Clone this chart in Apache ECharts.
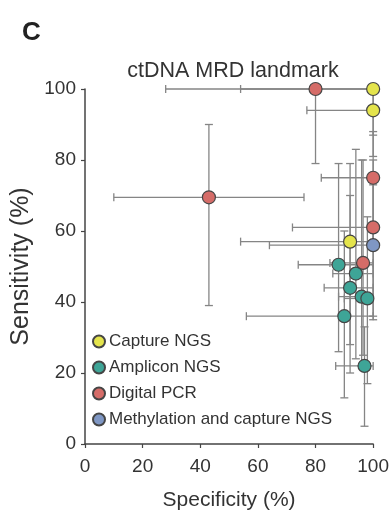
<!DOCTYPE html>
<html>
<head>
<meta charset="utf-8">
<script src="https://cdn.jsdelivr.net/npm/echarts@6/dist/echarts.min.js"></script>
<style>
  html, body { margin: 0; padding: 0; background: #fff; }
  #chart { width: 392px; height: 516px; }
</style>
</head>
<body>
<div id="chart"></div>
<script>
// Each study: [specificity, sensitivity, specLow, specHigh, sensLow, sensHigh] (%)
const captureNGS = [
  [100, 100, 54, 100, 87, 100],
  [100, 94, 77, 100, 81, 100],
  [92, 57, 54, 100, 28, 79]
];
const ampliconNGS = [
  [88, 50.5, 74, 100, 26, 79],
  [94, 48, 86, 100, 24, 83],
  [92, 44, 83, 100, 20, 70],
  [96, 41.5, 88, 100, 22, 80],
  [98, 41, 90, 100, 17, 64],
  [90, 36, 56, 100, 13, 60],
  [97, 22, 87, 100, 5, 33]
];
const digitalPCR = [
  [80, 100, 28, 100, 79, 100],
  [43, 69.5, 10, 76, 39, 90],
  [100, 75, 82, 100, 56, 88],
  [100, 61, 72, 100, 36, 80],
  [96.5, 51, 85, 100, 25, 80]
];
const methylationNGS = [
  [100, 56, 64, 100, 35, 73]
];

const groupNames = ['Capture NGS', 'Amplicon NGS', 'Digital PCR', 'Methylation and capture NGS'];
const groupColors = ['#e4e44c', '#3ea597', '#d56c68', '#7f97c4'];
const xTicks = [0, 20, 40, 60, 80, 100];
const yTicks = [0, 20, 40, 60, 80, 100];

const groups = [captureNGS, ampliconNGS, digitalPCR, methylationNGS];
const font = "'Liberation Sans', Arial, sans-serif";

// Horizontal and vertical confidence intervals with end caps
function renderErrorBars(params, api) {
  const x = api.value(0), y = api.value(1);
  const p = api.coord([x, y]);
  const xl = api.coord([api.value(2), y])[0];
  const xh = api.coord([api.value(3), y])[0];
  const yl = api.coord([x, api.value(4)])[1];
  const yh = api.coord([x, api.value(5)])[1];
  const c = 4;
  const style = { stroke: '#858585', lineWidth: 1.3 };
  const seg = (x1, y1, x2, y2) => ({ type: 'line', shape: { x1, y1, x2, y2 }, style });
  return {
    type: 'group',
    children: [
      seg(xl, p[1], xh, p[1]),
      seg(xl, p[1] - c, xl, p[1] + c),
      seg(xh, p[1] - c, xh, p[1] + c),
      seg(p[0], yl, p[0], yh),
      seg(p[0] - c, yl, p[0] + c, yl),
      seg(p[0] - c, yh, p[0] + c, yh)
    ]
  };
}

const errorSeries = groups.map((g, i) => ({
  type: 'custom',
  name: groupNames[i] + ' CI',
  renderItem: renderErrorBars,
  data: g,
  encode: { x: 0, y: 1 },
  clip: false,
  z: 1,
  silent: true
}));

const pointSeries = groups.map((g, i) => ({
  type: 'scatter',
  name: groupNames[i],
  data: g.map(r => [r[0], r[1]]),
  symbol: 'circle',
  symbolSize: 13,
  itemStyle: { color: groupColors[i], borderColor: '#454545', borderWidth: 1.2, opacity: 1 },
  z: 3
}));

const axisCommon = {
  type: 'value',
  min: 0,
  max: 100,
  interval: 20,
  nameLocation: 'middle',
  nameTextStyle: { fontFamily: font, color: '#333', fontSize: 21 },
  axisLine: { show: true, lineStyle: { color: '#444', width: 1.5 } },
  axisTick: { show: true, length: 4, lineStyle: { color: '#444', width: 1.2 } },
  axisLabel: { fontFamily: font, color: '#333', fontSize: 19 },
  splitLine: { show: false }
};

const chart = echarts.init(document.getElementById('chart'), null, { renderer: 'canvas' });
chart.setOption({
  animation: false,
  backgroundColor: '#fff',
  title: [
    { text: 'C', left: 17, top: 15, textStyle: { fontFamily: font, fontWeight: 'bold', fontSize: 26, color: '#222' } },
    { text: 'ctDNA MRD landmark', left: 228, top: 55, textAlign: 'center',
      textStyle: { fontFamily: font, fontWeight: 'normal', fontSize: 21.5, color: '#333' } }
  ],
  grid: { left: 85, right: 16, top: 89, bottom: 72 },
  legend: {
    data: groupNames,
    orient: 'vertical',
    left: 87,
    top: 328,
    itemGap: 9,
    itemWidth: 12,
    itemHeight: 12,
    icon: 'circle',
    textStyle: { fontFamily: font, fontSize: 17, color: '#333', padding: [0, 0, 0, -1] }
  },
  xAxis: Object.assign({}, axisCommon, {
    name: 'Specificity (%)', nameGap: 46,
    axisLabel: Object.assign({}, axisCommon.axisLabel, { margin: 13, formatter: v => xTicks.includes(v) ? String(v) : '' })
  }),
  yAxis: Object.assign({}, axisCommon, {
    name: 'Sensitivity (%)', nameGap: 48,
    nameTextStyle: { fontFamily: font, color: '#333', fontSize: 25 },
    axisLabel: Object.assign({}, axisCommon.axisLabel, { margin: 9, formatter: v => yTicks.includes(v) ? String(v) : '' })
  }),
  series: errorSeries.concat(pointSeries)
});
</script>
</body>
</html>
